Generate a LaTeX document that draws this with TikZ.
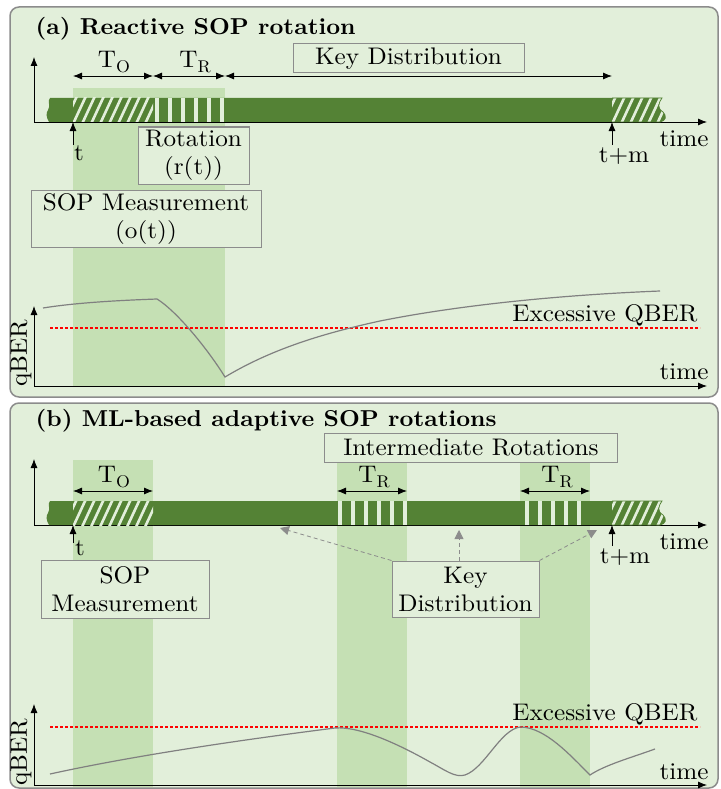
\documentclass[tikz,border=0pt]{standalone}
\usepackage{amsmath}
\usepackage{fontspec}
\setmainfont{lmroman10-regular.otf}[BoldFont=lmroman10-bold.otf,FakeStretch=1.05]
\usetikzlibrary{arrows.meta,calc,positioning}
\definecolor{panelgreen}{HTML}{E2EFDA}
\definecolor{bandgreen}{HTML}{C5E0B4}
\definecolor{bargreen}{HTML}{548235}
\definecolor{framegray}{HTML}{8C8C8C}
\definecolor{qbergray}{HTML}{808080}
\definecolor{limitred}{HTML}{FF0000}
\newcommand{\Tsub}[1]{T\raisebox{-0.22em}{\fontsize{17}{17}\selectfont #1}}

\begin{document}
\begin{tikzpicture}[x=1pt,y=-1pt,font=\fontsize{24}{28}\selectfont]
\tikzstyle{panel}=[draw=framegray,line width=1.5pt,fill=panelgreen,rounded corners=9pt]
\tikzstyle{tag}=[draw=framegray,line width=1pt,fill=panelgreen,align=center,inner sep=0pt]
\tikzstyle{axis}=[line width=0.8pt,-{Latex[length=9pt,width=7pt]}]
\tikzstyle{span}=[line width=0.8pt,{Latex[length=9pt,width=7pt]}-{Latex[length=9pt,width=7pt]}]
\tikzstyle{qber}=[qbergray,line width=1.2pt]
\tikzstyle{limit}=[draw=limitred,line width=1.2pt,dash pattern=on 3pt off 2pt]
\tikzstyle{hint}=[framegray,line width=0.8pt,dash pattern=on 4pt off 3pt,-{Triangle[length=9pt,width=9pt]}]
\tikzstyle{hatch}=[panelgreen,line width=2.6pt]
\tikzstyle{title}=[anchor=west,font=\fontsize{23}{28}\selectfont\bfseries]
\useasboundingbox (0,0) rectangle (720,789);

% (a) reactive rotation
\draw[panel] (10,7) rectangle (718,397);
\fill[bandgreen] (73,88) rectangle (225,386);
\node[title] (titleA) at (32,29) {(a) Reactive SOP rotation};

\coordinate (oA) at (34,122);
\draw[axis] (oA) -- (34,57);
\draw[axis] (oA) -- (707,122);
\fill[bargreen] (50,98) -- (612,98) -- (612,122) -- (49,122) .. controls (46,117) and (46,113) .. (48,110) .. controls (51,106) and (47,101) .. (50,98);
\begin{scope}
  \clip (73,98) rectangle (153,122);
  \foreach \x in {64,73,...,154} \draw[hatch] (\x,124) -- ++(13,-28);
\end{scope}
\foreach \x in {155,168,...,220} \fill[panelgreen] (\x,98) rectangle ++(4,24);
\begin{scope}
  \clip (612,98) -- (662,98) .. controls (658,104) and (657,108) .. (663,112) .. controls (667,116) and (666,121) .. (660,122) -- (612,122) -- cycle;
  \fill[bargreen] (600,90) rectangle (680,130);
  \foreach \x in {603,612,...,675} \draw[hatch] (\x,124) -- ++(13,-28);
\end{scope}
\draw[bargreen,line width=0.7pt] (612,98) -- (662,98) .. controls (658,104) and (657,108) .. (663,112) .. controls (667,116) and (666,121) .. (660,122) -- (612,122);

\coordinate (a0) at (73,76);
\coordinate (a1) at (153,76);
\coordinate (a2) at (225,76);
\coordinate (a3) at (612,76);
\draw[span] (a0) -- (a1);
\draw[span] (a1) -- (a2);
\draw[span] (a2) -- (a3);
\node (toA) at (114,62) {\Tsub{O}};
\node (trA) at (195,62) {\Tsub{R}};
\node[tag,minimum width=231pt,minimum height=29pt] (kdA) at (408.5,58.5) {Key Distribution};

\coordinate (tA) at (73,122);
\coordinate (tAfoot) at (73,145);
\draw[axis] (tAfoot) -- (tA);
\node (tlabA) at (79,153) {t};
\coordinate (tmA) at (612,122);
\coordinate (tmAfoot) at (612,145);
\draw[axis] (tmAfoot) -- (tmA);
\node (tmlabA) at (624,156) {t+m};
\node (timeA) at (684,139) {time};

\node[tag,minimum width=111pt,minimum height=57pt] (rotA) at (193.5,155.5) {Rotation\\(r(t))};
\node[tag,minimum width=230pt,minimum height=57pt] (sopA) at (146,219) {SOP Measurement\\(o(t))};

\coordinate (qA) at (34,386);
\draw[axis] (qA) -- (34,306);
\draw[axis] (qA) -- (707,386);
\node[rotate=90] (qlabA) at (21,353) {qBER};
\node (timeqA) at (684,372) {time};
\draw[limit] (50,328) -- (700,328);
\node[anchor=east] (exA) at (701,315) {Excessive QBER};
\draw[qber] (43,308) .. controls (80,302) and (130,300) .. (157,299) .. controls (175,310) and (205,345) .. (225,377) .. controls (270,350) and (320,334) .. (380,321) .. controls (460,305) and (560,295) .. (660,291);

% (b) ML-based rotations
\draw[panel] (10,403) rectangle (718,788);
\fill[bandgreen] (73,460) rectangle (153,787);
\fill[bandgreen] (337,463) rectangle (407,787);
\fill[bandgreen] (520,463) rectangle (590,787);
\node[title] (titleB) at (32,421) {(b) ML-based adaptive SOP rotations};

\coordinate (oB) at (34,525);
\draw[axis] (oB) -- (34,459);
\draw[axis] (oB) -- (707,525);
\fill[bargreen] (50,501) -- (612,501) -- (612,525) -- (49,525) .. controls (46,520) and (46,516) .. (48,513) .. controls (51,509) and (47,504) .. (50,501);
\begin{scope}
  \clip (73,501) rectangle (153,525);
  \foreach \x in {64,73,...,154} \draw[hatch] (\x,527) -- ++(13,-28);
\end{scope}
\foreach \x in {338,351,...,403} \fill[panelgreen] (\x,501) rectangle ++(4,24);
\foreach \x in {525,538,...,577} \fill[panelgreen] (\x,501) rectangle ++(4,24);
\begin{scope}
  \clip (612,501) -- (662,501) .. controls (658,507) and (657,511) .. (663,515) .. controls (667,519) and (666,524) .. (660,525) -- (612,525) -- cycle;
  \fill[bargreen] (600,493) rectangle (680,533);
  \foreach \x in {603,612,...,675} \draw[hatch] (\x,527) -- ++(13,-28);
\end{scope}
\draw[bargreen,line width=0.7pt] (612,501) -- (662,501) .. controls (658,507) and (657,511) .. (663,515) .. controls (667,519) and (666,524) .. (660,525) -- (612,525);

\coordinate (b0) at (73,491);
\coordinate (b1) at (153,491);
\coordinate (b2) at (337,491);
\coordinate (b3) at (407,491);
\coordinate (b4) at (520,491);
\coordinate (b5) at (590,491);
\draw[span] (b0) -- (b1);
\draw[span] (b2) -- (b3);
\draw[span] (b4) -- (b5);
\node (toB) at (114,477) {\Tsub{O}};
\node (trB) at (374,477) {\Tsub{R}};
\node (trC) at (557,477) {\Tsub{R}};
\node[tag,minimum width=293pt,minimum height=29pt] (irB) at (471,447.5) {Intermediate Rotations};

\coordinate (tB) at (73,525);
\coordinate (tBfoot) at (73,543);
\draw[axis] (tBfoot) -- (tB);
\node (tlabB) at (80,548) {t};
\coordinate (tmB) at (612,525);
\coordinate (tmBfoot) at (612,546);
\draw[axis] (tmBfoot) -- (tmB);
\node (tmlabB) at (625,557) {t+m};
\node (timeB) at (684,542) {time};

\node[tag,minimum width=168pt,minimum height=58pt] (sopB) at (125,589) {SOP\\Measurement};
\node[tag,minimum width=147pt,minimum height=56pt] (kdB) at (465.5,589) {Key\\Distribution};
\coordinate (kd1) at (280,528);
\coordinate (kd2) at (459,530);
\coordinate (kd3) at (597,530);
\draw[hint] (kdB.north west) -- (kd1);
\draw[hint] (kdB.north -| kd2) -- (kd2);
\draw[hint] (kdB.north east) -- (kd3);

\coordinate (qB) at (34,785);
\draw[axis] (qB) -- (34,704);
\draw[axis] (qB) -- (707,785);
\node[rotate=90] (qlabB) at (21,752) {qBER};
\node (timeqB) at (684,772) {time};
\draw[limit] (50,727) -- (700,727);
\node[anchor=east] (exB) at (701,714) {Excessive QBER};
\draw[qber] (50,774) .. controls (150,752) and (280,735) .. (335,728) .. controls (360,726) and (400,745) .. (430,762) .. controls (445,770) and (455,778) .. (465,775) .. controls (485,768) and (500,730) .. (520,727) .. controls (545,727) and (570,755) .. (590,775) .. controls (605,765) and (630,758) .. (655,749);
\end{tikzpicture}
\end{document}
